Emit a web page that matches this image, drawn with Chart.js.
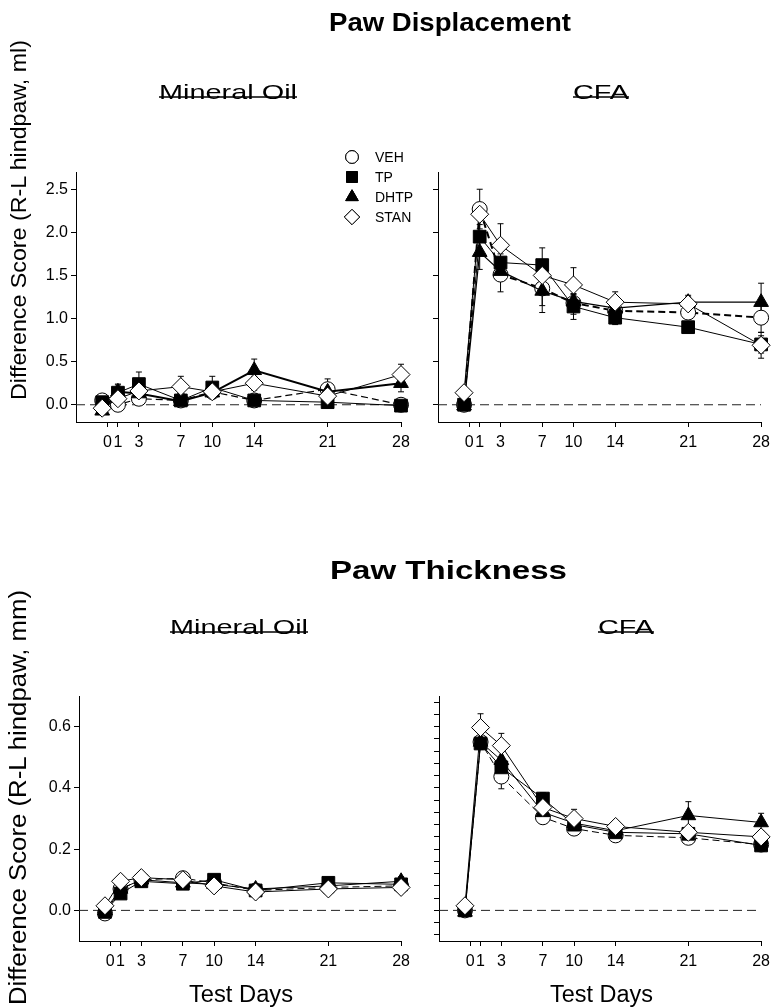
<!DOCTYPE html>
<html>
<head>
<meta charset="utf-8">
<script src="https://cdn.jsdelivr.net/npm/chart.js@4/dist/chart.umd.min.js"></script>
<style>
  body { margin: 0; background: #fff; }
  #page { position: relative; width: 776px; height: 1008px; overflow: hidden; }
  canvas { position: absolute; }
  svg { position: absolute; left: 0; top: 0; }
</style>
</head>
<body>
<div id="page">
  <canvas id="dispOil" width="390" height="330" style="left:26px;top:130px"></canvas>
  <canvas id="dispCfa" width="378" height="330" style="left:398px;top:130px"></canvas>
  <canvas id="thickOil" width="390" height="304" style="left:26px;top:670px"></canvas>
  <canvas id="thickCfa" width="378" height="304" style="left:398px;top:670px"></canvas>

  <svg width="776" height="1008" font-family="Liberation Sans, Arial, sans-serif" fill="#000">
    <text x="329" y="31" font-size="25" font-weight="bold" textLength="242" lengthAdjust="spacingAndGlyphs">Paw Displacement</text>
    <text x="330" y="579" font-size="25" font-weight="bold" textLength="237" lengthAdjust="spacingAndGlyphs">Paw Thickness</text>

    <text x="159" y="99" font-size="21" textLength="138" lengthAdjust="spacingAndGlyphs">Mineral Oil</text>
    <line x1="159" x2="297" y1="97" y2="97" stroke="#000" stroke-width="1.5"/>
    <text x="573" y="99" font-size="21" textLength="56" lengthAdjust="spacingAndGlyphs">CFA</text>
    <line x1="573" x2="629" y1="97" y2="97" stroke="#000" stroke-width="1.5"/>

    <text x="170" y="634" font-size="21" textLength="138" lengthAdjust="spacingAndGlyphs">Mineral Oil</text>
    <line x1="170" x2="308" y1="632" y2="632" stroke="#000" stroke-width="1.5"/>
    <text x="598" y="634" font-size="21" textLength="56" lengthAdjust="spacingAndGlyphs">CFA</text>
    <line x1="598" x2="654" y1="632" y2="632" stroke="#000" stroke-width="1.5"/>

    <text transform="translate(26,400) rotate(-90)" font-size="22" textLength="360" lengthAdjust="spacingAndGlyphs">Difference Score (R-L hindpaw, ml)</text>
    <text transform="translate(26,1005) rotate(-90)" font-size="23" textLength="415" lengthAdjust="spacingAndGlyphs">Difference Score (R-L hindpaw, mm)</text>

    <text x="189" y="1002" font-size="23" textLength="104" lengthAdjust="spacingAndGlyphs">Test Days</text>
    <text x="550" y="1002" font-size="23" textLength="103" lengthAdjust="spacingAndGlyphs">Test Days</text>
  </svg>
</div>

<script>
// days tested (baseline drawn just left of the 0 tick)
var days = [-0.5, 1, 3, 7, 10, 14, 21, 28];
var dayTicks = [0, 1, 3, 7, 10, 14, 21, 28];
var zeroLineX = [-3, 28];
var zeroLineY = [0, 0];

var groups = ['VEH', 'TP', 'DHTP', 'STAN'];

var dispTicks = [0, 0.5, 1, 1.5, 2, 2.5];
var thickTicks = [0, 0.2, 0.4, 0.6];
var thickMinorTicks = [-0.08, -0.04, 0, 0.04, 0.08, 0.12, 0.16, 0.2, 0.24, 0.28, 0.32, 0.36, 0.4, 0.44, 0.48, 0.52, 0.56, 0.6, 0.64, 0.68];

// Paw displacement, mineral oil
var dispOilVeh = [0.05, 0.0, 0.07, 0.05, 0.15, 0.05, 0.18, 0.0];
var dispOilTp = [0.03, 0.14, 0.24, 0.05, 0.2, 0.05, 0.03, -0.01];
var dispOilDhtp = [-0.07, 0.15, 0.13, 0.04, 0.14, 0.4, 0.15, 0.25];
var dispOilStan = [-0.04, 0.07, 0.16, 0.21, 0.15, 0.25, 0.1, 0.35];
var dispOilVehErr = [0.04, 0.04, 0.05, 0.05, 0.05, 0.05, 0.12, 0.05];
var dispOilTpErr = [0.03, 0.1, 0.14, 0.04, 0.13, 0.08, 0.03, 0.05];
var dispOilDhtpErr = [0.03, 0.08, 0.06, 0.05, 0.06, 0.13, 0.06, 0.1];
var dispOilStanErr = [0.03, 0.05, 0.06, 0.12, 0.06, 0.08, 0.05, 0.12];

// Paw displacement, CFA
var dispCfaVeh = [0.0, 2.27, 1.51, 1.35, 1.18, 1.09, 1.07, 1.01];
var dispCfaTp = [0.0, 1.95, 1.65, 1.62, 1.14, 1.01, 0.9, 0.7];
var dispCfaDhtp = [-0.01, 1.77, 1.55, 1.32, 1.2, 1.12, 1.19, 1.19];
var dispCfaStan = [0.14, 2.21, 1.85, 1.5, 1.39, 1.19, 1.17, 0.69];
var dispCfaVehErr = [0.02, 0.23, 0.2, 0.2, 0.1, 0.06, 0.06, 0.17];
var dispCfaTpErr = [0.02, 0.2, 0.1, 0.2, 0.15, 0.08, 0.04, 0.1];
var dispCfaDhtpErr = [0.02, 0.2, 0.1, 0.25, 0.15, 0.1, 0.08, 0.22];
var dispCfaStanErr = [0.03, 0.12, 0.25, 0.1, 0.2, 0.12, 0.08, 0.15];

// Paw thickness, mineral oil
var thickOilVeh = [-0.01, 0.07, 0.1, 0.105, 0.09, 0.065, 0.075, 0.08];
var thickOilTp = [-0.005, 0.055, 0.095, 0.087, 0.1, 0.065, 0.09, 0.085];
var thickOilDhtp = [0.0, 0.07, 0.1, 0.09, 0.085, 0.07, 0.08, 0.095];
var thickOilStan = [0.015, 0.095, 0.107, 0.1, 0.08, 0.06, 0.07, 0.075];
var thickOilVehErr = [0.01, 0.01, 0.01, 0.01, 0.01, 0.01, 0.01, 0.01];
var thickOilTpErr = [0.01, 0.01, 0.01, 0.01, 0.01, 0.01, 0.01, 0.01];
var thickOilDhtpErr = [0.01, 0.01, 0.01, 0.01, 0.01, 0.01, 0.01, 0.015];
var thickOilStanErr = [0.01, 0.01, 0.01, 0.01, 0.01, 0.01, 0.01, 0.01];

// Paw thickness, CFA
var thickCfaVeh = [0.0, 0.55, 0.437, 0.304, 0.267, 0.245, 0.237, 0.215];
var thickCfaTp = [0.0, 0.545, 0.467, 0.365, 0.28, 0.255, 0.25, 0.212];
var thickCfaDhtp = [-0.005, 0.55, 0.49, 0.32, 0.285, 0.26, 0.31, 0.287];
var thickCfaStan = [0.015, 0.597, 0.538, 0.336, 0.3, 0.274, 0.255, 0.24];
var thickCfaVehErr = [0.01, 0.02, 0.04, 0.02, 0.02, 0.015, 0.015, 0.015];
var thickCfaTpErr = [0.01, 0.02, 0.03, 0.02, 0.02, 0.015, 0.015, 0.015];
var thickCfaDhtpErr = [0.01, 0.02, 0.03, 0.02, 0.02, 0.015, 0.045, 0.03];
var thickCfaStanErr = [0.01, 0.045, 0.04, 0.02, 0.03, 0.015, 0.015, 0.02];

Chart.defaults.font.family = 'Liberation Sans, Arial, sans-serif';
Chart.defaults.font.size = 16;
Chart.defaults.color = '#000';

// marker look for each group
var markers = {
  VEH: { pointStyle: 'circle', radius: 7.5, fill: '#fff' },
  TP: { pointStyle: 'rect', radius: 9, fill: '#000' },
  DHTP: { pointStyle: 'triangle', radius: 8.5, fill: '#000' },
  STAN: { pointStyle: 'rectRot', radius: 9, fill: '#fff' }
};

function toPoints(xs, ys) {
  return xs.map(function(x, i) { return { x: x, y: ys[i] }; });
}

// draws SEM bars under the markers
var errorBars = {
  id: 'errorBars',
  beforeDatasetsDraw: function(chart) {
    var ctx = chart.ctx;
    var xs = chart.scales.x, ys = chart.scales.y;
    ctx.save();
    ctx.strokeStyle = '#000';
    ctx.lineWidth = 1;
    chart.data.datasets.forEach(function(ds) {
      if (!ds.err) return;
      ds.data.forEach(function(p, j) {
        var x = xs.getPixelForValue(p.x);
        var top = ys.getPixelForValue(p.y + ds.err[j]);
        var bot = ys.getPixelForValue(p.y - ds.err[j]);
        ctx.beginPath();
        ctx.moveTo(x, top); ctx.lineTo(x, bot);
        ctx.moveTo(x - 3, top); ctx.lineTo(x + 3, top);
        ctx.moveTo(x - 3, bot); ctx.lineTo(x + 3, bot);
        ctx.stroke();
      });
    });
    ctx.restore();
  }
};

// legend in the first panel only
var groupLegend = {
  id: 'groupLegend',
  afterDraw: function(chart) {
    var ctx = chart.ctx;
    ctx.save();
    ctx.font = '14px Liberation Sans, Arial, sans-serif';
    ctx.textBaseline = 'middle';
    groups.forEach(function(g, i) {
      var m = markers[g];
      var y = 27 + i * 20;
      ctx.fillStyle = m.fill;
      ctx.strokeStyle = '#000';
      ctx.lineWidth = 1;
      Chart.helpers.drawPoint(ctx, { pointStyle: m.pointStyle, radius: m.radius * 0.85, rotation: 0, borderWidth: 1 }, 326, y);
      ctx.fill();
      ctx.stroke();
      ctx.fillStyle = '#000';
      ctx.fillText(g, 349, y + 1);
    });
    ctx.restore();
  }
};

function makePanel(id, series, errs, opt) {
  var styles = {
    VEH: { width: opt.vehWidth, dash: [7, 4] },
    TP: { width: 1, dash: [] },
    DHTP: { width: opt.dhtpWidth, dash: [] },
    STAN: { width: 1, dash: [] }
  };
  var order = { VEH: 3, TP: 2, DHTP: 1, STAN: 0 };

  var datasets = groups.map(function(g, i) {
    var m = markers[g];
    return {
      label: g,
      data: toPoints(days, series[i]),
      err: errs[i],
      borderColor: '#000',
      borderWidth: styles[g].width,
      borderDash: styles[g].dash,
      pointStyle: m.pointStyle,
      pointRadius: m.radius,
      pointBackgroundColor: m.fill,
      pointBorderColor: '#000',
      pointBorderWidth: 1,
      tension: 0,
      fill: false,
      clip: false,
      order: order[g]
    };
  });

  datasets.push({
    label: 'zero',
    data: toPoints(zeroLineX, zeroLineY),
    borderColor: '#222',
    borderWidth: 1,
    borderDash: [9, 5],
    pointRadius: 0,
    order: 10
  });

  var plugins = [errorBars];
  if (opt.legend) plugins.push(groupLegend);

  return new Chart(document.getElementById(id), {
    type: 'line',
    data: { datasets: datasets },
    plugins: plugins,
    options: {
      responsive: false,
      animation: false,
      layout: { padding: { top: opt.padTop, right: opt.padRight, left: 0, bottom: 0 } },
      plugins: { legend: { display: false }, tooltip: { enabled: false } },
      scales: {
        x: {
          type: 'linear',
          min: -3,
          max: 28,
          afterBuildTicks: function(scale) {
            scale.ticks = dayTicks.map(function(v) { return { value: v }; });
          },
          afterFit: function(scale) { scale.height = opt.xHeight; },
          grid: { drawOnChartArea: false, tickLength: 5, color: '#000' },
          border: { display: true, color: '#000', width: 1 },
          ticks: { autoSkip: false, maxRotation: 0, padding: 6, font: { size: 16 } }
        },
        y: {
          type: 'linear',
          min: opt.yMin,
          max: opt.yMax,
          afterBuildTicks: function(scale) {
            scale.ticks = opt.yTicks.map(function(v) { return { value: v }; });
          },
          afterFit: function(scale) { scale.width = opt.yWidth; },
          grid: { drawOnChartArea: false, tickLength: 5, color: '#000' },
          border: { display: true, color: '#000', width: 1 },
          ticks: {
            display: opt.yLabels,
            padding: 3,
            font: { size: 16 },
            callback: function(v) { return v.toFixed(1); }
          }
        }
      }
    }
  });
}

makePanel('dispOil',
  [dispOilVeh, dispOilTp, dispOilDhtp, dispOilStan],
  [dispOilVehErr, dispOilTpErr, dispOilDhtpErr, dispOilStanErr],
  { yMin: -0.2, yMax: 2.7, yTicks: dispTicks, yLabels: true, yWidth: 50, xHeight: 38,
    padTop: 42, padRight: 15, vehWidth: 1.2, dhtpWidth: 2, legend: true });

makePanel('dispCfa',
  [dispCfaVeh, dispCfaTp, dispCfaDhtp, dispCfaStan],
  [dispCfaVehErr, dispCfaTpErr, dispCfaDhtpErr, dispCfaStanErr],
  { yMin: -0.2, yMax: 2.7, yTicks: dispTicks, yLabels: false, yWidth: 40, xHeight: 38,
    padTop: 42, padRight: 11, vehWidth: 2, dhtpWidth: 1.2, legend: false });

makePanel('thickOil',
  [thickOilVeh, thickOilTp, thickOilDhtp, thickOilStan],
  [thickOilVehErr, thickOilTpErr, thickOilDhtpErr, thickOilStanErr],
  { yMin: -0.1, yMax: 0.7, yTicks: thickTicks, yLabels: true, yWidth: 53, xHeight: 33,
    padTop: 26, padRight: 12, vehWidth: 1, dhtpWidth: 1, legend: false });

makePanel('thickCfa',
  [thickCfaVeh, thickCfaTp, thickCfaDhtp, thickCfaStan],
  [thickCfaVehErr, thickCfaTpErr, thickCfaDhtpErr, thickCfaStanErr],
  { yMin: -0.1, yMax: 0.7, yTicks: thickMinorTicks, yLabels: false, yWidth: 41, xHeight: 33,
    padTop: 26, padRight: 11, vehWidth: 1, dhtpWidth: 1, legend: false });
</script>
</body>
</html>
